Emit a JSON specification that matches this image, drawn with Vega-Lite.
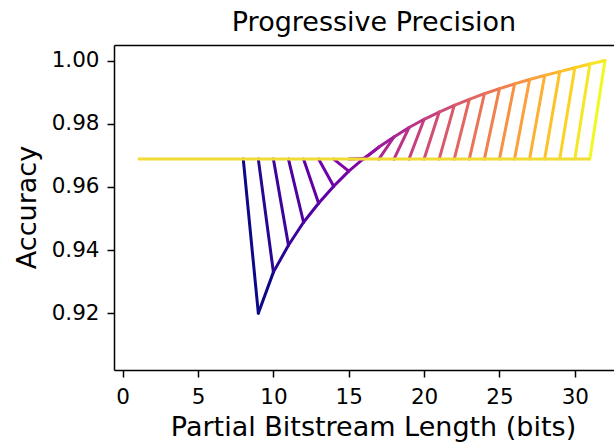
{
  "$schema": "https://vega.github.io/schema/vega-lite/v6.json",
  "width": 500,
  "height": 325,
  "autosize": {"type": "none"},
  "padding": {"left": 114, "top": 45, "right": 0, "bottom": 75},
  "background": "white",
  "config": {
    "view": {"stroke": null},
    "font": "DejaVu Sans",
    "axis": {
      "grid": false,
      "domainColor": "black",
      "domainWidth": 1.5,
      "tickColor": "black",
      "tickWidth": 1.5,
      "tickSize": 7,
      "labelPadding": 7,
      "labelFont": "DejaVu Sans",
      "labelFontSize": 21.5,
      "labelColor": "black",
      "titleFont": "DejaVu Sans",
      "titleFontSize": 27,
      "titleFontWeight": "normal",
      "titleColor": "black"
    }
  },
  "title": {
    "text": "Progressive Precision",
    "font": "DejaVu Sans",
    "fontSize": 27,
    "fontWeight": "normal",
    "color": "black",
    "anchor": "middle",
    "dx": 10,
    "offset": 8
  },
  "datasets": {
    "curve": [
      {"bits": 9, "prevBits": 8, "base": 0.9688, "acc": 0.9200},
      {"bits": 10, "prevBits": 9, "base": 0.9688, "acc": 0.9330},
      {"bits": 11, "prevBits": 10, "base": 0.9688, "acc": 0.9415},
      {"bits": 12, "prevBits": 11, "base": 0.9688, "acc": 0.9488},
      {"bits": 13, "prevBits": 12, "base": 0.9688, "acc": 0.9548},
      {"bits": 14, "prevBits": 13, "base": 0.9688, "acc": 0.9602},
      {"bits": 15, "prevBits": 14, "base": 0.9688, "acc": 0.9650},
      {"bits": 16, "prevBits": 15, "base": 0.9688, "acc": 0.9690},
      {"bits": 17, "prevBits": 16, "base": 0.9688, "acc": 0.9726},
      {"bits": 18, "prevBits": 17, "base": 0.9688, "acc": 0.9758},
      {"bits": 19, "prevBits": 18, "base": 0.9688, "acc": 0.9788},
      {"bits": 20, "prevBits": 19, "base": 0.9688, "acc": 0.9814},
      {"bits": 21, "prevBits": 20, "base": 0.9688, "acc": 0.9837},
      {"bits": 22, "prevBits": 21, "base": 0.9688, "acc": 0.9858},
      {"bits": 23, "prevBits": 22, "base": 0.9688, "acc": 0.9877},
      {"bits": 24, "prevBits": 23, "base": 0.9688, "acc": 0.9895},
      {"bits": 25, "prevBits": 24, "base": 0.9688, "acc": 0.9911},
      {"bits": 26, "prevBits": 25, "base": 0.9688, "acc": 0.9926},
      {"bits": 27, "prevBits": 26, "base": 0.9688, "acc": 0.9940},
      {"bits": 28, "prevBits": 27, "base": 0.9688, "acc": 0.9953},
      {"bits": 29, "prevBits": 28, "base": 0.9688, "acc": 0.9965},
      {"bits": 30, "prevBits": 29, "base": 0.9688, "acc": 0.9977},
      {"bits": 31, "prevBits": 30, "base": 0.9688, "acc": 0.9989},
      {"bits": 32, "prevBits": 31, "base": 0.9688, "acc": 1.0000}
    ],
    "baseline": [
      {"start": 1, "end": 31, "acc": 0.9688}
    ]
  },
  "resolve": {"axis": {"x": "independent"}},
  "layer": [
    {
      "data": {"name": "curve"},
      "mark": {"type": "rule", "strokeWidth": 3, "strokeCap": "round"},
      "encoding": {
        "x": {
          "field": "prevBits",
          "type": "quantitative",
          "scale": {"domain": [-0.577, 32.6], "nice": false, "zero": false},
          "axis": {
            "values": [0, 5, 10, 15, 20, 25, 30],
            "format": "d",
            "labelPadding": 9,
            "title": "Partial Bitstream Length (bits)",
            "titleX": 259,
            "titleY": 65,
            "titleBaseline": "alphabetic"
          }
        },
        "x2": {"field": "bits"},
        "y": {
          "field": "base",
          "type": "quantitative",
          "scale": {"domain": [0.902, 1.00493], "nice": false, "zero": false},
          "axis": {
            "values": [0.92, 0.94, 0.96, 0.98, 1.0],
            "format": ".2f",
            "labelPadding": 8,
            "title": "Accuracy",
            "titleAngle": -90,
            "titleX": -87,
            "titleY": 162,
            "titleAlign": "center",
            "titleBaseline": "middle"
          }
        },
        "y2": {"field": "acc"},
        "color": {
          "field": "bits",
          "type": "quantitative",
          "scale": {"scheme": "plasma", "domain": [9, 32]},
          "legend": null
        }
      }
    },
    {
      "data": {"name": "curve"},
      "transform": [
        {"window": [
          {"op": "lead", "field": "bits", "as": "nextBits"},
          {"op": "lead", "field": "acc", "as": "nextAcc"}
        ]},
        {"filter": "isValid(datum.nextBits)"}
      ],
      "mark": {"type": "rule", "strokeWidth": 3, "strokeCap": "round"},
      "encoding": {
        "x": {"field": "bits", "type": "quantitative", "axis": {"orient": "top", "labels": false, "ticks": false, "title": null, "domain": true}},
        "x2": {"field": "nextBits"},
        "y": {"field": "acc", "type": "quantitative"},
        "y2": {"field": "nextAcc"},
        "color": {
          "field": "bits",
          "type": "quantitative",
          "legend": null
        }
      }
    },
    {
      "data": {"name": "baseline"},
      "mark": {"type": "rule", "strokeWidth": 3, "color": "#f1dc35"},
      "encoding": {
        "x": {"field": "start", "type": "quantitative", "axis": null},
        "x2": {"field": "end"},
        "y": {"field": "acc", "type": "quantitative"}
      }
    }
  ]
}
